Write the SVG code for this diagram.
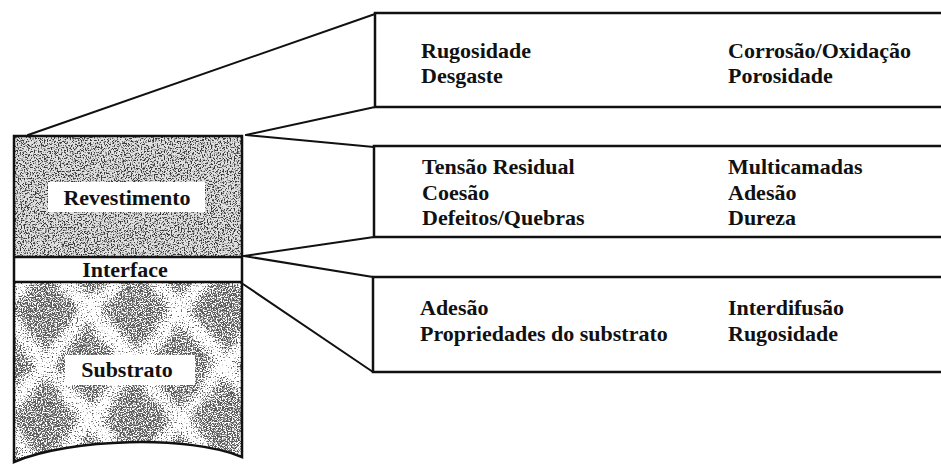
<svg xmlns="http://www.w3.org/2000/svg" width="941" height="464" viewBox="0 0 941 464">
<style>
.lbl{font-family:"Liberation Serif","Times New Roman",serif;font-weight:bold;font-size:22px;fill:#111}
.box{fill:#fff;stroke:#111;stroke-width:2.5}
.ln{fill:none;stroke:#111;stroke-width:2;stroke-linecap:round}
.edge{fill:none;stroke:#111;stroke-width:2.5}
</style>
<defs>
<clipPath id="cRev"><rect x="14" y="136" width="228" height="121"/></clipPath>
<clipPath id="cSub"><path d="M14,282 H242 V457 C190,435 70,438 14,462 Z"/></clipPath>
<pattern id="dia" patternUnits="userSpaceOnUse" x="0" y="255" width="90" height="110">
<polygon points="8,55 45,10 82,55 45,100" fill="#000"/>
<polygon points="-37,0 0,-45 37,0 0,45" fill="#000"/>
<polygon points="53,0 90,-45 127,0 90,45" fill="#000"/>
<polygon points="-37,110 0,65 37,110 0,155" fill="#000"/>
<polygon points="53,110 90,65 127,110 90,155" fill="#000"/>
</pattern>
<filter id="fRev" x="0" y="0" width="1" height="1" color-interpolation-filters="sRGB">
<feTurbulence type="fractalNoise" baseFrequency="0.7" numOctaves="2" seed="4" result="n"/>
<feColorMatrix in="n" type="matrix" values="0 0 0 0 0  0 0 0 0 0  0 0 0 0 0  -7 0 0 0 3.52" result="dots"/>
<feFlood flood-color="#383838" result="c"/>
<feComposite in="c" in2="dots" operator="in"/>
</filter>
<filter id="fSub" x="0" y="0" width="1" height="1" color-interpolation-filters="sRGB">
<feTurbulence type="fractalNoise" baseFrequency="0.04" numOctaves="2" seed="7" result="low"/>
<feDisplacementMap in="SourceGraphic" in2="low" scale="12" xChannelSelector="R" yChannelSelector="G" result="disp"/>
<feGaussianBlur in="disp" stdDeviation="4" result="soft"/>
<feTurbulence type="fractalNoise" baseFrequency="0.8" numOctaves="2" seed="11" result="fine"/>
<feColorMatrix in="fine" type="matrix" values="0 0 0 0 0  0 0 0 0 0  0 0 0 0 0  1 0 0 0 0" result="fa"/>
<feComposite in="soft" in2="fa" operator="arithmetic" k1="0" k2="1.7" k3="-7" k4="2.52" result="dots"/>
<feFlood flood-color="#5a5a5a" result="c"/>
<feComposite in="c" in2="dots" operator="in"/>
</filter>
</defs>

<g id="connectors">
<line class="ln" x1="28" y1="135" x2="375" y2="14"/>
<line class="ln" x1="246" y1="135" x2="375" y2="107"/>
<line class="ln" x1="246" y1="135" x2="374" y2="147"/>
<line class="ln" x1="244" y1="256" x2="374" y2="237"/>
<line class="ln" x1="244" y1="256" x2="373" y2="277"/>
<line class="ln" x1="243" y1="284" x2="373" y2="372"/>
</g>

<g id="layer-revestimento">
<rect x="14" y="136" width="228" height="121" fill="#e0e0e0"/>
<g clip-path="url(#cRev)"><rect x="14" y="136" width="228" height="121" fill="#000" filter="url(#fRev)"/></g>
<rect x="48" y="182" width="157" height="30" fill="#fff"/>
<text class="lbl" x="127" y="205" text-anchor="middle">Revestimento</text>
</g>

<g id="layer-interface">
<rect x="14" y="257" width="228" height="25" fill="#fff"/>
<text class="lbl" x="125" y="277" text-anchor="middle">Interface</text>
</g>

<g id="layer-substrato">
<path d="M14,282 H242 V457 C190,435 70,438 14,462 Z" fill="#fff"/>
<g clip-path="url(#cSub)"><g filter="url(#fSub)"><rect x="-30" y="230" width="320" height="260" fill="url(#dia)"/></g></g>
<rect x="65" y="355" width="130" height="30" fill="#fff"/>
<text class="lbl" x="127" y="377" text-anchor="middle">Substrato</text>
</g>

<g id="column-outline">
<path class="edge" d="M14,136 H242 V457 C190,435 70,438 14,462 Z"/>
<line class="edge" x1="14" y1="257" x2="242" y2="257"/>
<line class="edge" x1="14" y1="282" x2="242" y2="282"/>
</g>

<g id="box-superficie">
<rect class="box" x="375" y="13" width="580" height="94"/>
<text class="lbl" x="421" y="58">Rugosidade</text>
<text class="lbl" x="421" y="83">Desgaste</text>
<text class="lbl" x="728" y="58">Corrosão/Oxidação</text>
<text class="lbl" x="728" y="83">Porosidade</text>
</g>

<g id="box-revestimento">
<rect class="box" x="374" y="146" width="580" height="91"/>
<text class="lbl" x="422" y="174">Tensão Residual</text>
<text class="lbl" x="422" y="200">Coesão</text>
<text class="lbl" x="422" y="225">Defeitos/Quebras</text>
<text class="lbl" x="728" y="174">Multicamadas</text>
<text class="lbl" x="728" y="200">Adesão</text>
<text class="lbl" x="728" y="225">Dureza</text>
</g>

<g id="box-interface">
<rect class="box" x="373" y="277" width="580" height="95"/>
<text class="lbl" x="420" y="315">Adesão</text>
<text class="lbl" x="420" y="341">Propriedades do substrato</text>
<text class="lbl" x="728" y="315">Interdifusão</text>
<text class="lbl" x="728" y="341">Rugosidade</text>
</g>
</svg>
